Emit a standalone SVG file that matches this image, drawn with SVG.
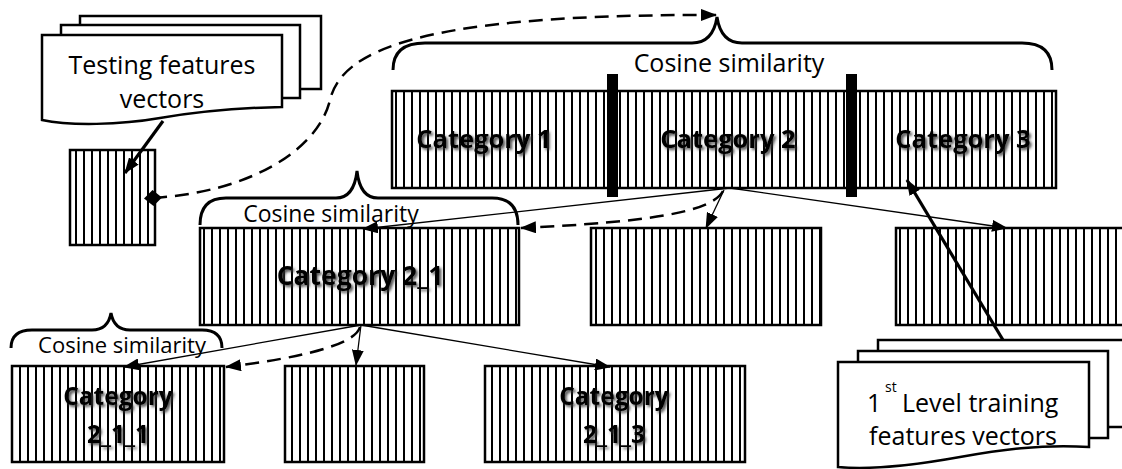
<svg xmlns="http://www.w3.org/2000/svg" width="1122" height="469" viewBox="0 0 1122 469">
<style>
.box{fill:url(#stripes);stroke:#000;stroke-width:2.5}
.doc{fill:#fff;stroke:#000;stroke-width:2.5}
.brace{fill:none;stroke:#000;stroke-width:3}
.t{font-family:"Open Sans","Noto Sans",sans-serif;fill:#000;text-anchor:middle}
.lbl{font-family:"Open Sans","Noto Sans",sans-serif;font-weight:bold;fill:#000;text-anchor:middle;filter:url(#shadow)}
.thin{fill:none;stroke:#000;stroke-width:1.3;marker-end:url(#ah)}
.thick{fill:none;stroke:#000;stroke-width:3.2;marker-end:url(#ah)}
.dash{fill:none;stroke:#000;stroke-width:2.5;stroke-dasharray:14 8;marker-end:url(#ah)}
</style>
<defs>
<pattern id="stripes" patternUnits="userSpaceOnUse" width="8" height="10">
<rect width="8" height="10" fill="#fff"/>
<rect x="3" width="2" height="10" fill="#000"/>
</pattern>
<filter id="shadow" x="-10%" y="-20%" width="130%" height="160%">
<feDropShadow dx="2" dy="2" stdDeviation="1.6" flood-color="#333" flood-opacity="0.9"/>
</filter>
<marker id="ah" markerUnits="userSpaceOnUse" markerWidth="16" markerHeight="12" refX="15" refY="6" orient="auto">
<path d="M0,0 L16,6 L0,12 z" fill="#000"/>
</marker>
<marker id="dia" markerUnits="userSpaceOnUse" markerWidth="18" markerHeight="16" refX="9" refY="8" orient="auto">
<path d="M0,8 L9,0 L18,8 L9,16 z" fill="#000"/>
</marker>
</defs>
<rect width="1122" height="469" fill="#fff"/>

<g id="testing-doc">
<rect class="doc" x="80" y="16" width="241" height="73"/>
<rect class="doc" x="61" y="25" width="239" height="73"/>
<path class="doc" d="M42,35 H282 V107 C230,108 190,113 160,118 C120,125 70,126 42,120 Z"/>
<text class="t" x="162" y="74" font-size="25">Testing features</text>
<text class="t" x="162" y="108" font-size="25">vectors</text>
</g>

<g id="test-vector">
<rect class="box" x="70" y="150" width="85" height="95"/>
</g>

<g id="top-level">
<path class="brace" d="M393,70 Q393,43 425,43 H692 Q713,43 717,17 Q721,43 742,43 H1022 Q1052,43 1052,70"/>
<text class="t" x="729" y="72" font-size="25">Cosine similarity</text>
<rect class="box" x="392" y="91" width="664" height="97"/>
<rect x="607" y="74" width="11" height="123" fill="#000"/>
<rect x="846" y="74" width="11" height="123" fill="#000"/>
<text class="lbl" x="484" y="148" font-size="25.5">Category 1</text>
<text class="lbl" x="728" y="148" font-size="25.5">Category 2</text>
<text class="lbl" x="963" y="148" font-size="25.5">Category 3</text>
</g>

<g id="category-2-1">
<path class="brace" d="M200,225 Q200,198 226,198 H336 Q354,198 357,171 Q360,198 378,198 H492 Q518,198 518,225"/>
<text class="t" x="331" y="222" font-size="23">Cosine similarity</text>
<rect class="box" x="200" y="228" width="319" height="97"/>
<text class="lbl" x="360" y="285" font-size="26.5">Category 2_1</text>
</g>

<g id="category-2-2">
<rect class="box" x="591" y="228" width="230" height="97"/>
</g>

<g id="category-2-3">
<rect class="box" x="896" y="228" width="240" height="97"/>
</g>

<g id="category-2-1-1">
<path class="brace" d="M11,348 Q11,330 32,330 H92 Q108,330 111,313 Q114,330 130,330 H202 Q222,330 222,348"/>
<text class="t" x="122" y="353" font-size="22">Cosine similarity</text>
<rect class="box" x="12" y="366" width="212" height="96"/>
<text class="lbl" x="118" y="405" font-size="24.5">Category</text>
<text class="lbl" x="118" y="443" font-size="24.5">2_1_1</text>
</g>

<g id="category-2-1-2">
<rect class="box" x="285" y="366" width="139" height="96"/>
</g>

<g id="category-2-1-3">
<rect class="box" x="485" y="366" width="260" height="96"/>
<text class="lbl" x="614" y="405" font-size="24.5">Category</text>
<text class="lbl" x="614" y="443" font-size="24.5">2_1_3</text>
</g>

<g id="training-doc">
<rect class="doc" x="878" y="340" width="262" height="87"/>
<rect class="doc" x="858" y="351" width="250" height="87"/>
<path class="doc" d="M838,362 H1089 V447 C1040,444 1000,450 960,457 C910,466 870,470 838,467 Z"/>
<text font-family="Open Sans, Noto Sans, sans-serif" font-size="25" fill="#000"><tspan x="867" y="412">1</tspan><tspan x="885" y="392" font-size="14">st</tspan><tspan x="902" y="412">Level training</tspan></text>
<text class="t" x="963" y="445" font-size="25">features vectors</text>
</g>

<g id="connectors">
<path class="thick" d="M163,121 L125,173"/>
<path class="dash" style="marker-start:url(#dia)" d="M153,198 C250,192 318,150 330,100 C342,50 420,14 716,15"/>
<path class="thin" d="M730,188 L363,229"/>
<path class="dash" d="M723,191 C712,212 650,222 521,228"/>
<path class="thin" d="M724,190 L706,228"/>
<path class="thin" d="M730,188 L1007,228"/>
<path class="thick" d="M1003,340 L907,180"/>
<path class="thin" d="M361,325 L124,367"/>
<path class="dash" d="M360,327 C355,345 300,358 226,367"/>
<path class="thin" d="M361,325 L356,365"/>
<path class="thin" d="M361,325 L610,367"/>
</g>
</svg>
